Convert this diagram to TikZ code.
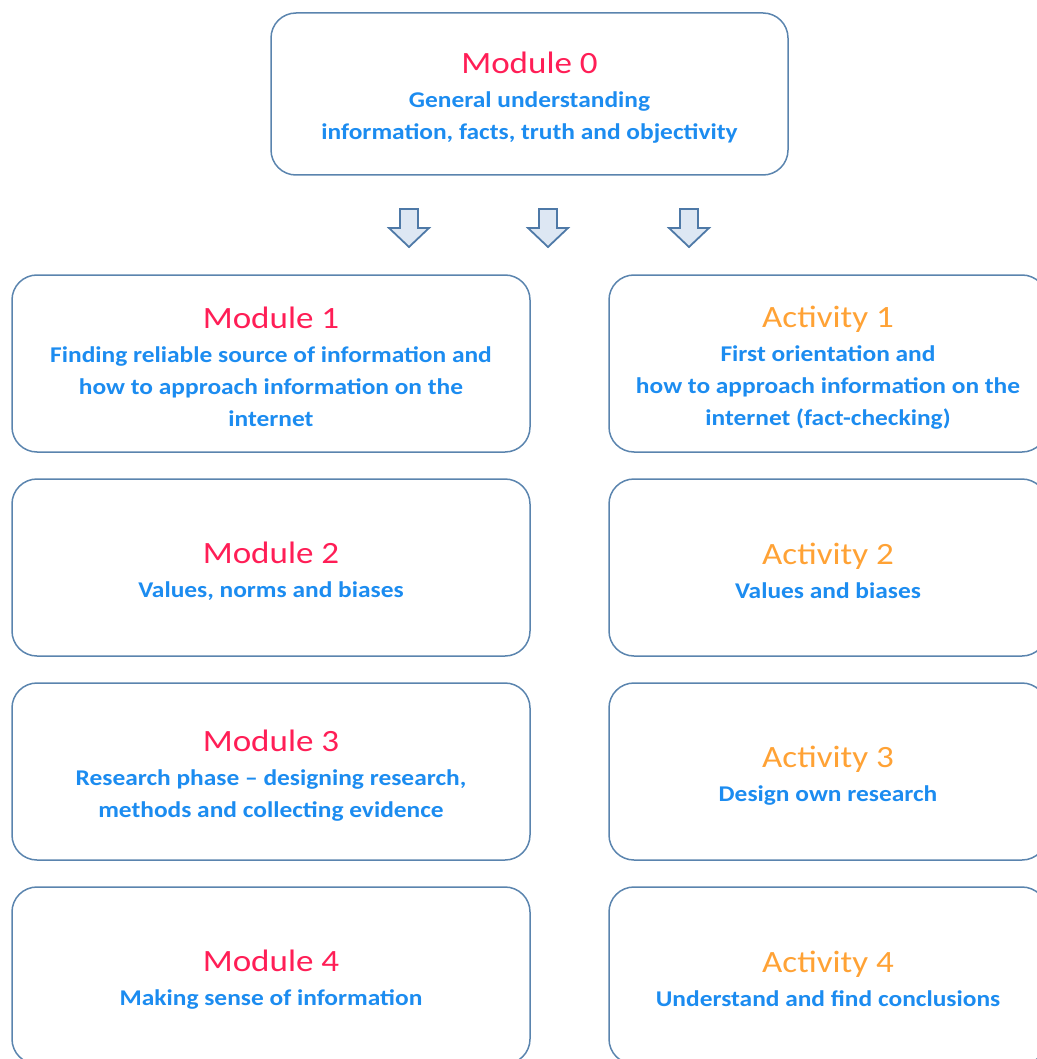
\documentclass[tikz,border=0pt]{standalone}
\usepackage{fontspec}
\setmainfont[FakeStretch=1.13]{Carlito}
\usepackage{tikz}
\usetikzlibrary{positioning}
\definecolor{boxline}{HTML}{5A84AE}
\definecolor{arrowline}{HTML}{4E79A7}
\definecolor{arrowfill}{HTML}{DDE7F3}
\definecolor{modred}{HTML}{FF1E56}
\definecolor{actorange}{HTML}{FFA235}
\definecolor{bodyblue}{HTML}{1C8CF0}
\newcommand{\modtitle}[1]{\rule{0pt}{29pt}{\fontsize{31}{36}\selectfont\mdseries\color{modred}\smash{#1}}}
\newcommand{\acttitle}[1]{\rule{0pt}{29pt}{\fontsize{31}{36}\selectfont\mdseries\color{actorange}\smash{#1}}}

\begin{document}
\begin{tikzpicture}[x=1pt,y=-1pt,node distance=25.5pt and 77.5pt,
  unitbox/.style={draw=boxline,line width=1.5pt,rounded corners=25pt,
    minimum height=177pt,align=center,text=bodyblue,inner sep=0pt,
    font=\fontsize{22.5}{32}\selectfont\bfseries},
  modbox/.style={unitbox,minimum width=518pt},
  actbox/.style={unitbox,minimum width=438pt},
  blockarrow/.style={draw=arrowline,fill=arrowfill,line width=1.8pt,line join=miter}]
  \useasboundingbox (0,0) rectangle (1036,1059);
  \node[unitbox,minimum width=517pt,minimum height=162pt] (mod0) at (529.5,94)
    {\modtitle{Module 0}\\[2pt] General understanding\\ information, facts, truth and objectivity};
  % three arrows down from module 0
  \foreach \ax in {409,548,689}
    \draw[blockarrow] (\ax-9,209) -- (\ax+9,209) -- (\ax+9,228) -- (\ax+20,228)
      -- (\ax,247) -- (\ax-20,228) -- (\ax-9,228) -- cycle;
  % modules
  \node[modbox] (mod1) at (271,363.5)
    {\modtitle{Module 1}\\[2pt] Finding reliable source of information and\\ how to approach information on the\\ internet};
  \node[modbox,below=of mod1] (mod2) {\modtitle{Module 2}\\[2pt] Values, norms and biases};
  \node[modbox,below=of mod2] (mod3)
    {\modtitle{Module 3}\\[2pt] Research phase -- designing research,\\ methods and collecting evidence};
  \node[modbox,below=of mod3] (mod4) {\modtitle{Module 4}\\[2pt] Making sense of information};
  % activities
  \node[actbox,right=of mod1] (act1)
    {\acttitle{Activity 1}\\[2pt] First orientation and\\ how to approach information on the\\ internet (fact-checking)};
  \node[actbox,right=of mod2] (act2) {\acttitle{Activity 2}\\[2pt] Values and biases};
  \node[actbox,right=of mod3] (act3) {\acttitle{Activity 3}\\[2pt] Design own research};
  \node[actbox,right=of mod4] (act4) {\acttitle{Activity 4}\\[2pt] Understand and find conclusions};
\end{tikzpicture}
\end{document}
